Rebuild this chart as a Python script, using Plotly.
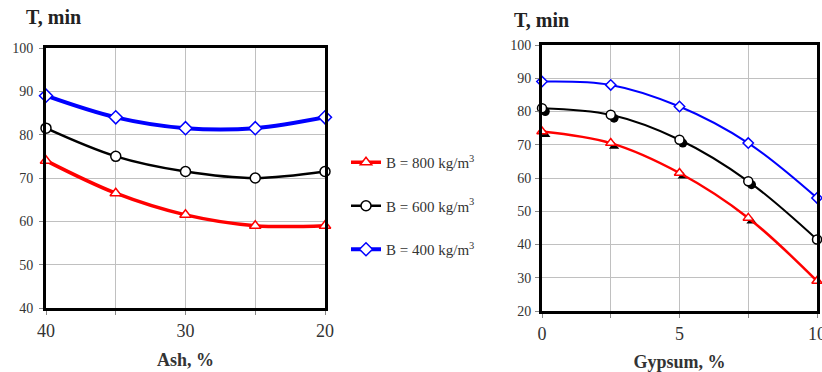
import plotly.graph_objects as go

# ---- data ----
ash = [40, 35, 30, 25, 20]
ash_t800 = [74, 66.5, 61.5, 59, 59]
ash_t600 = [81.5, 75, 71.5, 70, 71.5]
ash_t400 = [89, 84, 81.5, 81.5, 84]

gyp = [0, 2.5, 5, 7.5, 10]
gyp_t800 = [74, 70.5, 61.5, 48, 29]
gyp_t600 = [81, 79, 71.5, 59, 41.5]
gyp_t400 = [89, 88, 81.5, 70.5, 54]
# shadow (filled black) points on the right chart
gyp_shadow_x = [0.12, 2.62, 5.12, 7.62, 10.12]
gyp_shadow_t800 = [73, 69.5, 60.5, 47, 28]
gyp_shadow_t600 = [80, 78, 70.5, 58, 40.5]

legend_names = ["B = 800 kg/m<sup>3</sup>", "B = 600 kg/m<sup>3</sup>", "B = 400 kg/m<sup>3</sup>"]

FONT = "Liberation Serif"
RED, BLACK, BLUE = "#ff0000", "#000000", "#0000ff"

fig = go.Figure()

left = [(ash_t800, RED, "triangle-up", 3.5, 10), (ash_t600, BLACK, "circle", 2.5, 10), (ash_t400, BLUE, "diamond", 4, 10)]
for i, (ys, c, sym, lw, ms) in enumerate(left):
    fig.add_trace(go.Scatter(
        x=ash, y=ys, mode="lines+markers", name=legend_names[i],
        legendgroup=f"g{i}", xaxis="x", yaxis="y",
        line=dict(color=c, width=lw, shape="spline", smoothing=1.0),
        marker=dict(symbol=sym, size=ms, color="white", line=dict(color=c, width=1.5)),
        cliponaxis=False,
    ))

# shadow markers on right
fig.add_trace(go.Scatter(x=gyp_shadow_x, y=gyp_shadow_t800, mode="markers", showlegend=False,
                         xaxis="x2", yaxis="y2", cliponaxis=False,
                         marker=dict(symbol="triangle-up", size=9, color="black")))
fig.add_trace(go.Scatter(x=gyp_shadow_x, y=gyp_shadow_t600, mode="markers", showlegend=False,
                         xaxis="x2", yaxis="y2", cliponaxis=False,
                         marker=dict(symbol="circle", size=9, color="black")))

right = [(gyp_t800, RED, "triangle-up", 2.5, 9), (gyp_t600, BLACK, "circle", 2, 9), (gyp_t400, BLUE, "diamond", 2, 8)]
for i, (ys, c, sym, lw, ms) in enumerate(right):
    fig.add_trace(go.Scatter(
        x=gyp, y=ys, mode="lines+markers", showlegend=False,
        xaxis="x2", yaxis="y2",
        line=dict(color=c, width=lw, shape="spline", smoothing=1.0),
        marker=dict(symbol=sym, size=ms, color="white", line=dict(color=c, width=1.5)),
        cliponaxis=False,
    ))

W, H = 822, 372
def px_x(p): return p / W
def px_y(p): return 1 - p / H

axis_common = dict(showline=True, linecolor="black", linewidth=3, mirror=True,
                   showgrid=True, gridcolor="#c0c0c0", gridwidth=1, zeroline=False,
                   ticks="outside", ticklen=4, tickcolor="#888", tickwidth=1,
                   automargin=False, ticklabeloverflow="allow")

fig.update_layout(
    width=W, height=H,
    margin=dict(l=0, r=0, t=0, b=0, autoexpand=False),
    paper_bgcolor="white", plot_bgcolor="white",
    font=dict(family=FONT, color="#333"),
    xaxis=dict(domain=[px_x(46), px_x(325)], range=[40, 20],
               tickvals=[40, 35, 30, 25, 20], ticktext=["40", "", "30", "", "20"],
               tickfont=dict(size=18, family=FONT, color="#333"),
               title=dict(text="<b>Ash, %</b>", font=dict(size=18, family=FONT, color="#333"), standoff=14),
               anchor="y", **axis_common),
    yaxis=dict(domain=[px_y(308), px_y(48)], range=[40, 100], dtick=10,
               tickfont=dict(size=14, family=FONT, color="#333"), ticklabelstandoff=3,
               anchor="x", **axis_common),
    xaxis2=dict(domain=[px_x(542), px_x(817)], range=[0, 10],
                tickvals=[0, 2.5, 5, 7.5, 10], ticktext=["0", "", "5", "", "10"],
                tickfont=dict(size=18, family=FONT, color="#333"),
                title=dict(text="<b>Gypsum, %</b>", font=dict(size=18, family=FONT, color="#333"), standoff=14),
                anchor="y2", **axis_common),
    yaxis2=dict(domain=[px_y(311), px_y(45)], range=[20, 100], dtick=10,
                tickfont=dict(size=14, family=FONT, color="#333"), ticklabelstandoff=1,
                anchor="x2", **axis_common),
    legend=dict(x=px_x(346), y=px_y(146), xanchor="left", yanchor="top",
                font=dict(size=15, family=FONT, color="#333"),
                tracegroupgap=21, bgcolor="rgba(0,0,0,0)", itemwidth=30),
    showlegend=True,
    annotations=[
        dict(text="<b>T, min</b>", x=px_x(24), y=px_y(17), xref="paper", yref="paper",
             xanchor="left", yanchor="middle", showarrow=False,
             font=dict(size=20, family=FONT, color="#222")),
        dict(text="<b>T, min</b>", x=px_x(512), y=px_y(20), xref="paper", yref="paper",
             xanchor="left", yanchor="middle", showarrow=False,
             font=dict(size=20, family=FONT, color="#222")),
    ],
)

fig.write_html("out.html")
